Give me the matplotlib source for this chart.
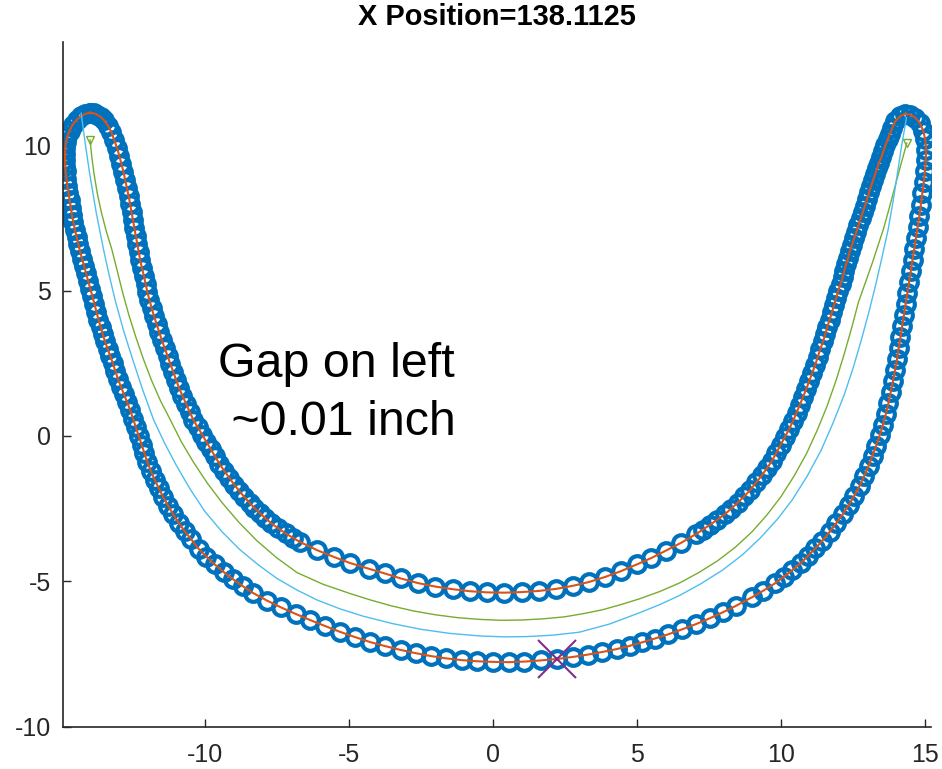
import matplotlib
matplotlib.use('Agg')
import matplotlib.pyplot as plt

# outer edge of the profile: left tip -> down -> bottom -> up -> right tip
outer_x = [-13.98, -14.15, -14.3, -14.45, -14.6, -14.7, -14.78, -14.83, -14.85, -14.86,
           -14.86, -14.85, -14.84, -14.81, -14.78, -14.74, -14.7, -14.66, -14.62, -14.57,
           -14.52, -14.46, -14.4, -14.34, -14.27, -14.2, -14.13, -14.05, -13.98, -13.91,
           -13.84, -13.77, -13.7, -13.62, -13.55, -13.47, -13.38, -13.29, -13.2, -13.11,
           -13.02, -12.92, -12.82, -12.71, -12.6, -12.5, -12.4, -12.3, -12.2, -12.1,
           -12.0, -11.88, -11.75, -11.6, -11.45, -11.28, -11.1, -10.9, -10.7, -10.47,
           -10.22, -9.95, -9.66, -9.35, -9.02, -8.68, -8.33, -7.85, -7.35, -6.85,
           -6.35, -5.82, -5.3, -4.78, -4.26, -3.73, -3.2, -2.68, -2.15, -1.62,
           -1.08, -0.54, 0.0, 0.55, 1.1, 1.67, 2.24, 2.78, 3.3, 3.8,
           4.3, 4.75, 5.18, 5.62, 6.1, 6.58, 7.06, 7.54, 8.0, 8.45,
           9.0, 9.4, 9.8, 10.1, 10.4, 10.7, 10.95, 11.2, 11.45, 11.7,
           11.93, 12.15, 12.36, 12.56, 12.74, 12.9, 13.05, 13.19, 13.32, 13.44,
           13.55, 13.65, 13.74, 13.82, 13.9, 13.97, 14.04, 14.1, 14.16, 14.22,
           14.28, 14.34, 14.4, 14.46, 14.52, 14.58, 14.64, 14.7, 14.76, 14.82,
           14.87, 14.92, 14.97, 15.01, 15.04, 15.05, 15.02, 14.95, 14.83, 14.67,
           14.5, 14.33]
outer_y = [11.12, 11.08, 11.0, 10.88, 10.7, 10.5, 10.3, 10.1, 9.9, 9.7,
           9.5, 9.3, 9.1, 8.85, 8.6, 8.35, 8.1, 7.85, 7.6, 7.35,
           7.1, 6.85, 6.6, 6.35, 6.1, 5.85, 5.6, 5.32, 5.05, 4.8,
           4.55, 4.28, 4.0, 3.75, 3.5, 3.25, 3.0, 2.75, 2.5, 2.22,
           1.95, 1.7, 1.45, 1.18, 0.9, 0.6, 0.3, 0.0, -0.3, -0.6,
           -0.9, -1.2, -1.5, -1.8, -2.1, -2.4, -2.7, -3.0, -3.28, -3.56,
           -3.88, -4.15, -4.42, -4.68, -4.93, -5.17, -5.4, -5.66, -5.9, -6.12,
           -6.33, -6.54, -6.74, -6.92, -7.09, -7.23, -7.36, -7.47, -7.57, -7.65,
           -7.71, -7.75, -7.77, -7.78, -7.76, -7.72, -7.67, -7.6, -7.52, -7.43,
           -7.33, -7.22, -7.1, -6.97, -6.82, -6.65, -6.47, -6.27, -6.06, -5.84,
           -5.55, -5.32, -5.07, -4.85, -4.62, -4.37, -4.12, -3.87, -3.6, -3.3,
           -3.0, -2.7, -2.38, -2.05, -1.72, -1.38, -1.03, -0.68, -0.33, 0.02,
           0.38, 0.75, 1.12, 1.5, 1.88, 2.26, 2.64, 3.02, 3.4, 3.78,
           4.16, 4.54, 4.92, 5.3, 5.68, 6.06, 6.44, 6.82, 7.2, 7.58,
           7.96, 8.34, 8.72, 9.1, 9.48, 9.85, 10.2, 10.5, 10.76, 10.95,
           11.05, 11.08]

# inner edge: right tip -> down -> bottom -> up -> left tip
inner_x = [14.15, 13.98, 13.88, 13.8, 13.72, 13.64, 13.57, 13.5, 13.42, 13.35,
           13.28, 13.21, 13.14, 13.07, 13.0, 12.93, 12.85, 12.78, 12.7, 12.63,
           12.55, 12.48, 12.4, 12.34, 12.27, 12.21, 12.15, 12.08, 12.0, 11.93,
           11.85, 11.78, 11.7, 11.62, 11.55, 11.47, 11.38, 11.29, 11.2, 11.1,
           11.0, 10.89, 10.78, 10.67, 10.55, 10.43, 10.3, 10.15, 10.0, 9.85,
           9.7, 9.53, 9.35, 9.15, 8.95, 8.73, 8.5, 8.28, 8.05, 7.8,
           7.55, 7.3, 7.05, 6.55, 6.0, 5.5, 5.0, 4.45, 3.9, 3.35,
           2.8, 2.2, 1.6, 1.0, 0.4, -0.2, -0.8, -1.4, -2.0, -2.6,
           -3.2, -3.75, -4.3, -4.96, -5.5, -6.1, -6.69, -6.95, -7.2, -7.45,
           -7.7, -7.9, -8.1, -8.28, -8.45, -8.63, -8.8, -8.98, -9.15, -9.33,
           -9.5, -9.65, -9.8, -9.95, -10.1, -10.25, -10.4, -10.53, -10.65, -10.78,
           -10.9, -11.0, -11.1, -11.2, -11.3, -11.4, -11.5, -11.59, -11.68, -11.77,
           -11.85, -11.93, -12.0, -12.06, -12.12, -12.19, -12.25, -12.3, -12.35, -12.4,
           -12.45, -12.5, -12.55, -12.6, -12.65, -12.71, -12.77, -12.83, -12.9, -12.97,
           -13.05, -13.15, -13.25, -13.37, -13.5, -13.62, -13.75, -13.87, -13.98]
inner_y = [11.0, 10.82, 10.6, 10.4, 10.2, 10.0, 9.8, 9.6, 9.4, 9.2,
           9.0, 8.8, 8.6, 8.38, 8.15, 7.92, 7.7, 7.48, 7.25, 7.02,
           6.8, 6.58, 6.35, 6.12, 5.9, 5.68, 5.45, 5.22, 5.0, 4.75,
           4.5, 4.25, 4.0, 3.75, 3.5, 3.25, 3.0, 2.72, 2.45, 2.18,
           1.9, 1.62, 1.35, 1.08, 0.8, 0.52, 0.25, -0.03, -0.3, -0.58,
           -0.85, -1.1, -1.35, -1.6, -1.85, -2.08, -2.3, -2.5, -2.7, -2.88,
           -3.05, -3.22, -3.38, -3.67, -3.95, -4.2, -4.42, -4.65, -4.85, -5.02,
           -5.15, -5.26, -5.33, -5.37, -5.39, -5.38, -5.34, -5.27, -5.18, -5.06,
           -4.9, -4.73, -4.57, -4.37, -4.17, -3.93, -3.65, -3.5, -3.35, -3.18,
           -3.0, -2.83, -2.65, -2.48, -2.3, -2.1, -1.9, -1.68, -1.45, -1.2,
           -0.95, -0.7, -0.45, -0.2, 0.05, 0.3, 0.55, 0.82, 1.1, 1.38,
           1.65, 1.92, 2.2, 2.48, 2.75, 3.02, 3.3, 3.58, 3.85, 4.12,
           4.4, 4.68, 4.95, 5.22, 5.5, 5.78, 6.05, 6.32, 6.6, 6.88,
           7.15, 7.42, 7.7, 7.98, 8.25, 8.52, 8.8, 9.08, 9.35, 9.62,
           9.9, 10.18, 10.45, 10.67, 10.85, 10.97, 11.05, 11.1, 11.12]

# offset path (green)
green_x = [-13.99, -13.93, -13.85, -13.74, -13.6, -13.43, -13.23, -13.04, -12.85, -12.64,
           -12.4, -12.14, -11.85, -11.54, -11.2, -10.82, -10.4, -9.92, -9.4, -8.82,
           -8.2, -7.52, -6.8, -5.9, -4.96, -4.22, -3.5, -2.75, -2.0, -1.22,
           -0.44, 0.28, 1.0, 1.75, 2.5, 3.15, 3.8, 4.45, 5.1, 5.8,
           6.5, 7.15, 7.8, 8.42, 9.0, 9.52, 10.0, 10.47, 10.9, 11.27,
           11.6, 11.92, 12.2, 12.46, 12.7, 12.95, 13.2, 13.38, 13.56, 13.76,
           13.95, 14.16, 14.38]
green_y = [10.18, 9.6, 9.0, 8.35, 7.7, 7.05, 6.4, 5.65, 4.9, 4.15,
           3.4, 2.65, 1.9, 1.2, 0.55, -0.2, -0.9, -1.62, -2.3, -2.97,
           -3.6, -4.18, -4.7, -5.1, -5.42, -5.65, -5.85, -6.02, -6.15, -6.25,
           -6.31, -6.34, -6.33, -6.29, -6.22, -6.11, -5.98, -5.8, -5.6, -5.35,
           -5.05, -4.7, -4.3, -3.83, -3.3, -2.72, -2.1, -1.37, -0.6, 0.2,
           1.0, 1.9, 2.8, 3.7, 4.6, 5.3, 6.0, 6.55, 7.09, 7.8,
           8.5, 9.28, 10.07]

# tool path (cyan)
cyan_x = [-14.3, -14.15, -14.0, -13.78, -13.52, -13.32, -13.1, -12.82, -12.5, -12.15,
          -11.78, -11.4, -11.0, -10.52, -10.0, -9.42, -8.8, -8.15, -7.5, -6.8,
          -6.11, -5.3, -4.5, -3.5, -2.5, -1.5, -0.44, 0.4, 1.2, 2.1,
          3.0, 4.05, 5.1, 5.8, 6.5, 7.25, 8.0, 8.68, 9.3, 9.88,
          10.4, 10.92, 11.4, 11.82, 12.2, 12.52, 12.8, 13.06, 13.3, 13.52,
          13.73, 13.9, 14.05, 14.2, 14.37]
cyan_y = [11.1, 10.0, 9.0, 7.7, 6.4, 5.5, 4.6, 3.6, 2.6, 1.55,
          0.55, -0.25, -1.0, -1.82, -2.6, -3.28, -3.9, -4.43, -4.9, -5.3,
          -5.64, -5.95, -6.2, -6.45, -6.65, -6.79, -6.88, -6.91, -6.9, -6.85,
          -6.75, -6.47, -6.08, -5.8, -5.48, -5.07, -4.6, -4.08, -3.5, -2.87,
          -2.2, -1.38, -0.5, 0.45, 1.4, 2.35, 3.3, 4.25, 5.2, 6.15,
          7.09, 8.05, 9.0, 9.98, 10.95]

# current position
pos_x = [2.24]
pos_y = [-7.68]

blue = '#0072BD'
orange = '#D95319'
purple = '#7E2F8E'
green = '#77AC30'
cyan = '#4DBEEE'

plt.rcParams['font.family'] = ['Liberation Sans', 'DejaVu Sans']
plt.rcParams['axes.unicode_minus'] = False

fig = plt.figure(figsize=(9.42, 7.69), dpi=100)
ax = fig.add_axes([0.0672, 0.055, 0.9211, 0.8904])

prof_x = outer_x + inner_x
prof_y = outer_y + inner_y
ax.plot(prof_x, prof_y, 'o', color=blue, mfc='none', ms=12, mew=3.0, zorder=2)
ax.plot(prof_x, prof_y, '-', color=orange, lw=1.5, zorder=3)
ax.plot(green_x, green_y, '-', color=green, lw=1.0, zorder=3)
ax.plot([green_x[0], green_x[-1]], [green_y[0], green_y[-1]], 'v', color=green,
        mfc='none', ms=6, mew=1.0, zorder=3)
ax.plot(cyan_x, cyan_y, '-', color=cyan, lw=1.0, zorder=3)
ax.plot(pos_x, pos_y, 'x', color=purple, ms=27, mew=1.5, zorder=4)

# va='baseline' on multi-line text pins the last line's baseline
ax.text(-9.53, 0.03, 'Gap on left\n ~0.01 inch', fontsize=34.8, color='black',
        ha='left', va='baseline', linespacing=1.38)

ax.set_title('X Position=138.1125', fontsize=20.9, fontweight='bold', pad=12)

ax.set_xlim(-14.92, 15.22)
ax.set_ylim(-10, 13.55)
ax.set_xticks([-10, -5, 0, 5, 10, 15])
ax.set_yticks([-10, -5, 0, 5, 10])
ax.spines['top'].set_visible(False)
ax.spines['right'].set_visible(False)
for s in ['left', 'bottom']:
    ax.spines[s].set_linewidth(1.2)
    ax.spines[s].set_color('#262626')
ax.tick_params(direction='in', length=5.5, width=1.0, colors='#262626',
               labelsize=18)
ax.tick_params(axis='x', pad=12)
ax.tick_params(axis='y', pad=9)

fig.savefig('out.png', dpi=100)
